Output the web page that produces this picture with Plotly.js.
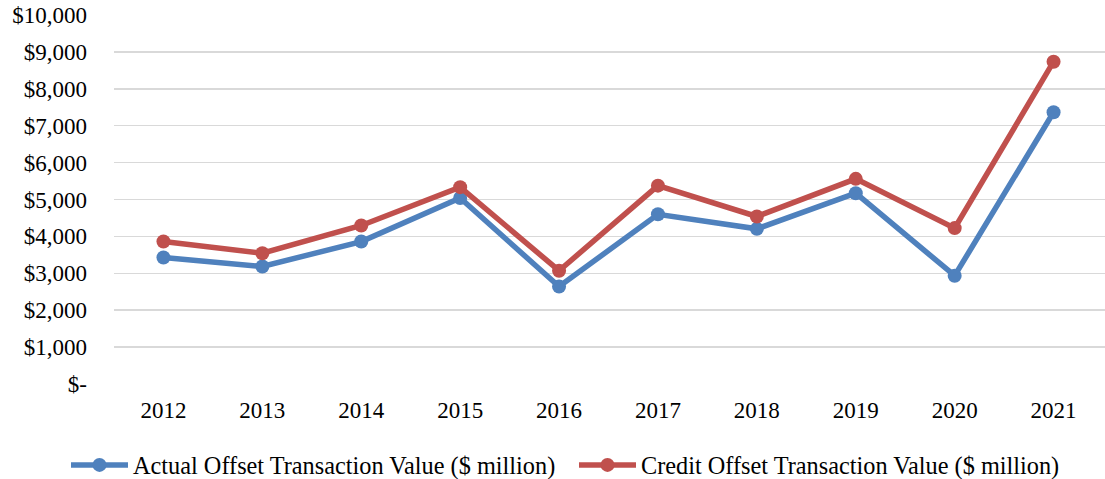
<!DOCTYPE html>
<html>
<head>
<meta charset="utf-8">
<script src="https://cdn.plot.ly/plotly-3.0.1.min.js"></script>
<style>html,body{margin:0;padding:0;background:#fff;}#chart{width:1105px;height:479px;}</style>
</head>
<body>
<div id="chart"></div>
<script>
const years = ["2012","2013","2014","2015","2016","2017","2018","2019","2020","2021"];
const actualValues = [3430, 3185, 3860, 5040, 2640, 4600, 4205, 5170, 2935, 7365];
const creditValues = [3860, 3545, 4295, 5335, 3070, 5375, 4540, 5560, 4225, 8735];
const yTickVals = [0,1000,2000,3000,4000,5000,6000,7000,8000,9000,10000];
const yTickText = ["$-","$1,000","$2,000","$3,000","$4,000","$5,000","$6,000","$7,000","$8,000","$9,000","$10,000"];
const seriesNames = ["Actual Offset Transaction Value ($ million)","Credit Offset Transaction Value ($ million)"];

const font = "Liberation Serif";
const traces = [
  {x: years, y: actualValues, name: seriesNames[0], type: "scatter", mode: "lines+markers",
   line: {color: "#4F81BD", width: 5.5}, marker: {color: "#4F81BD", size: 14}, legend: "legend"},
  {x: years, y: creditValues, name: seriesNames[1], type: "scatter", mode: "lines+markers",
   line: {color: "#C0504D", width: 5.5}, marker: {color: "#C0504D", size: 14}, legend: "legend2"}
];
const legendBase = {orientation: "h", xref: "container", yref: "container", xanchor: "left",
  y: 0.029, yanchor: "middle", font: {family: font, size: 24.3, color: "#000"}, itemwidth: 57,
  bgcolor: "rgba(0,0,0,0)"};
const layout = {
  width: 1105, height: 479,
  margin: {l: 114, r: 0, t: 15, b: 95},
  paper_bgcolor: "#fff", plot_bgcolor: "#fff",
  font: {family: font, size: 23, color: "#000"},
  showlegend: true,
  legend: Object.assign({}, legendBase, {x: 66 / 1105}),
  legend2: Object.assign({}, legendBase, {x: 574 / 1105}),
  xaxis: {type: "category", range: [-0.5, 9.52], showgrid: false, zeroline: false,
          showline: false, ticks: "", tickfont: {family: font, size: 23}, ticklabelstandoff: 10},
  yaxis: {range: [0, 10000], tickvals: yTickVals, ticktext: yTickText, showgrid: true,
          gridcolor: "#d9d9d9", gridwidth: 1.5, zeroline: false, showline: false, ticks: "",
          tickfont: {family: font, size: 23}, ticklabelstandoff: 26}
};
Plotly.newPlot("chart", traces, layout, {displayModeBar: false, staticPlot: true});
</script>
</body>
</html>
